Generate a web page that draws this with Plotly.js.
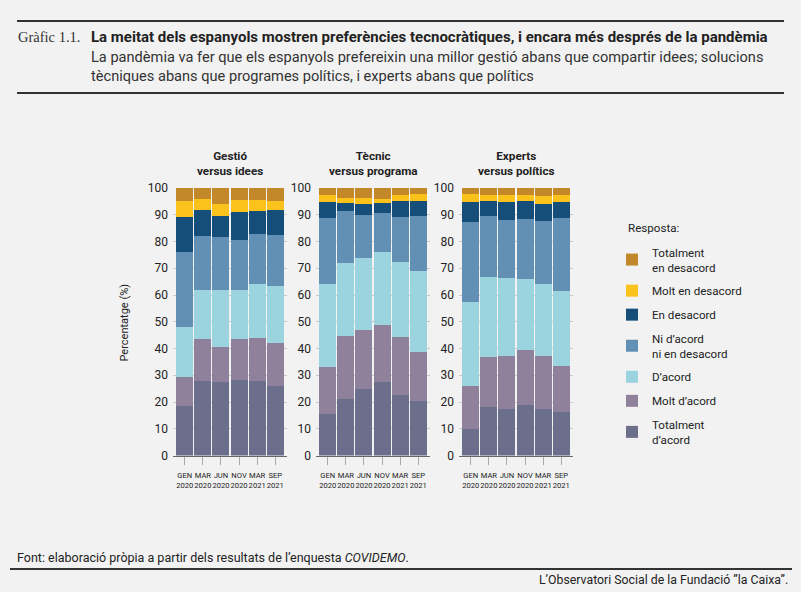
<!DOCTYPE html>
<html>
<head>
<meta charset="utf-8">
<script src="https://cdn.plot.ly/plotly-3.0.1.min.js"></script>
<style>
  body { margin: 0; background: #f2f2f2; }
  #chart { width: 801px; height: 592px; }
</style>
</head>
<body>
<div id="chart"></div>
<script>
// periods of the survey
const periods = ['GEN<br>2020', 'MAR<br>2020', 'JUN<br>2020', 'NOV<br>2020', 'MAR<br>2021', 'SEP<br>2021'];

// responses, bottom of the stack first
const respostes = ['Totalment<br>d’acord', 'Molt d’acord', 'D’acord', 'Ni d’acord<br>ni en desacord',
                   'En desacord', 'Molt en desacord', 'Totalment<br>en desacord'];
const colors = ['#6c6f8b', '#8f809c', '#9bd3de', '#6290b5', '#154f79', '#fcc21c', '#c3882a'];

// % per response (same order as respostes), one row per response
const gestio = [
    [18.6, 27.9, 27.3, 28.1, 27.8, 26.1],
    [10.9, 15.5, 13.1, 15.3, 16.3, 16.0],
    [18.7, 18.6, 21.6, 18.3, 20.1, 21.3],
    [28.0, 19.9, 19.6, 19.0, 18.6, 18.9],
    [13.1, 9.8, 8.1, 10.3, 8.7, 9.4],
    [5.7, 4.2, 4.2, 4.4, 3.9, 3.3],
    [5.0, 4.1, 6.1, 4.6, 4.6, 5.0]
];
const tecnic = [
    [15.5, 21.3, 24.9, 27.3, 22.8, 20.5],
    [17.5, 23.2, 22.1, 21.5, 21.5, 18.3],
    [31.0, 27.5, 27.0, 27.4, 28.2, 30.3],
    [24.7, 19.5, 15.9, 14.3, 16.5, 20.4],
    [5.9, 2.9, 4.0, 4.0, 6.1, 5.8],
    [2.7, 2.0, 2.5, 1.5, 2.2, 2.6],
    [2.7, 3.6, 3.6, 4.0, 2.7, 2.1]
];
const experts = [
    [9.8, 18.1, 17.4, 19.0, 17.5, 16.1],
    [16.2, 18.8, 19.7, 20.5, 19.6, 17.4],
    [31.5, 29.8, 29.3, 26.6, 27.0, 28.1],
    [29.9, 22.7, 21.8, 22.3, 23.4, 27.1],
    [7.4, 5.7, 6.4, 6.7, 6.5, 6.1],
    [3.0, 2.4, 2.9, 2.2, 2.9, 2.5],
    [2.2, 2.5, 2.5, 2.7, 3.1, 2.7]
];

const panelTitles = ['Gestió<br>versus idees', 'Tècnic<br>versus programa', 'Experts<br>versus polítics'];

const W = 801, H = 592;
const fx = p => p / W;
const fy = p => 1 - p / H;
const FONT = 'Roboto, "Liberation Sans", sans-serif';

let panels = [gestio, tecnic, experts];
let panelX = [[173, 287], [316, 430], [459, 573]];
let data = [];

panels.forEach((panel, pi) => {
    let sfx = pi === 0 ? '' : String(pi + 1);
    panel.forEach((vals, ri) => {
        data.push({
            type: 'bar',
            x: periods,
            y: vals,
            name: respostes[ri],
            legendgroup: 'r' + ri,
            legendrank: 100 - ri,
            showlegend: pi === 0,
            marker: {color: colors[ri], line: {width: 0}},
            xaxis: 'x' + sfx,
            yaxis: 'y' + sfx,
            hoverinfo: 'skip'
        });
    });
});

let layout = {
    width: W,
    height: H,
    paper_bgcolor: '#f2f2f2',
    plot_bgcolor: '#f2f2f2',
    margin: {l: 0, r: 0, t: 0, b: 0},
    barmode: 'stack',
    bargap: 0.06,
    font: {family: FONT, color: '#222', size: 11},
    showlegend: true,
    legend: {
        x: fx(612), y: fy(238), xanchor: 'left', yanchor: 'top',
        traceorder: 'grouped',
        tracegroupgap: 5,
        bgcolor: 'rgba(0,0,0,0)',
        font: {family: FONT, size: 11.6, color: '#222'},
        itemclick: false
    },
    shapes: [
        {type: 'line', xref: 'paper', yref: 'paper', x0: fx(17), x1: fx(784), y0: fy(21), y1: fy(21), line: {color: '#333', width: 2}},
        {type: 'line', xref: 'paper', yref: 'paper', x0: fx(17), x1: fx(784), y0: fy(93), y1: fy(93), line: {color: '#333', width: 2}},
        {type: 'line', xref: 'paper', yref: 'paper', x0: fx(10), x1: fx(792), y0: fy(569), y1: fy(569), line: {color: '#333', width: 2}}
    ],
    annotations: [
        {text: 'Gràfic 1.1.', x: fx(16), y: fy(37), xref: 'paper', yref: 'paper', xanchor: 'left', yanchor: 'middle', showarrow: false,
         font: {family: '"Liberation Serif", serif', size: 14.5, color: '#333'}},
        {text: '<b>La meitat dels espanyols mostren preferències tecnocràtiques, i encara més després de la pandèmia</b>',
         x: fx(89), y: fy(37), xref: 'paper', yref: 'paper', xanchor: 'left', yanchor: 'middle', showarrow: false,
         font: {family: FONT, size: 15, color: '#222'}},
        {text: 'La pandèmia va fer que els espanyols prefereixin una millor gestió abans que compartir idees; solucions<br>tècniques abans que programes polítics, i experts abans que polítics',
         x: fx(89), y: fy(66), xref: 'paper', yref: 'paper', xanchor: 'left', yanchor: 'middle', align: 'left', showarrow: false,
         font: {family: FONT, size: 14.6, color: '#333'}},
        {text: 'Percentatge (%)', textangle: -90, x: fx(115), y: fy(322), xref: 'paper', yref: 'paper', showarrow: false,
         font: {family: FONT, size: 11, color: '#222'}},
        {text: 'Resposta:', x: fx(626), y: fy(228), xref: 'paper', yref: 'paper', xanchor: 'left', yanchor: 'middle', showarrow: false,
         font: {family: FONT, size: 11.6, color: '#222'}},
        {text: 'Font: elaboració pròpia a partir dels resultats de l’enquesta <i>COVIDEMO</i>.', x: fx(15), y: fy(557), xref: 'paper', yref: 'paper',
         xanchor: 'left', yanchor: 'middle', showarrow: false, font: {family: FONT, size: 12.5, color: '#222'}},
        {text: 'L’Observatori Social de la Fundació ”la Caixa”.', x: fx(790), y: fy(580), xref: 'paper', yref: 'paper',
         xanchor: 'right', yanchor: 'middle', showarrow: false, font: {family: FONT, size: 12.3, color: '#222'}}
    ]
};

panelX.forEach((d, pi) => {
    let sfx = pi === 0 ? '' : String(pi + 1);
    layout['xaxis' + sfx] = {
        domain: [fx(d[0]), fx(d[1])],
        anchor: 'y' + sfx,
        range: [-0.65, 5.65],
        showgrid: false,
        showline: true,
        linecolor: '#666',
        linewidth: 1,
        ticks: 'outside',
        ticklen: 8,
        tickcolor: '#aaa',
        tickangle: 0,
        ticklabelstandoff: 4,
        tickfont: {family: FONT, size: 7.6, color: '#222'},
        fixedrange: true
    };
    layout['yaxis' + sfx] = {
        domain: [fy(455.5), fy(188)],
        anchor: 'x' + sfx,
        range: [0, 100],
        dtick: 10,
        showgrid: true,
        gridcolor: '#c9c9c9',
        gridwidth: 1,
        zeroline: false,
        showline: false,
        ticks: '',
        ticklabelstandoff: 4,
        tickfont: {family: FONT, size: 12, color: '#222'},
        fixedrange: true
    };
    layout.annotations.push({
        text: '<b>' + panelTitles[pi] + '</b>',
        x: fx((d[0] + d[1]) / 2), y: fy(163), xref: 'paper', yref: 'paper',
        xanchor: 'center', yanchor: 'middle', showarrow: false,
        font: {family: FONT, size: 11.7, color: '#222'}
    });
});

Plotly.newPlot('chart', data, layout, {displayModeBar: false, staticPlot: true});
</script>
</body>
</html>
